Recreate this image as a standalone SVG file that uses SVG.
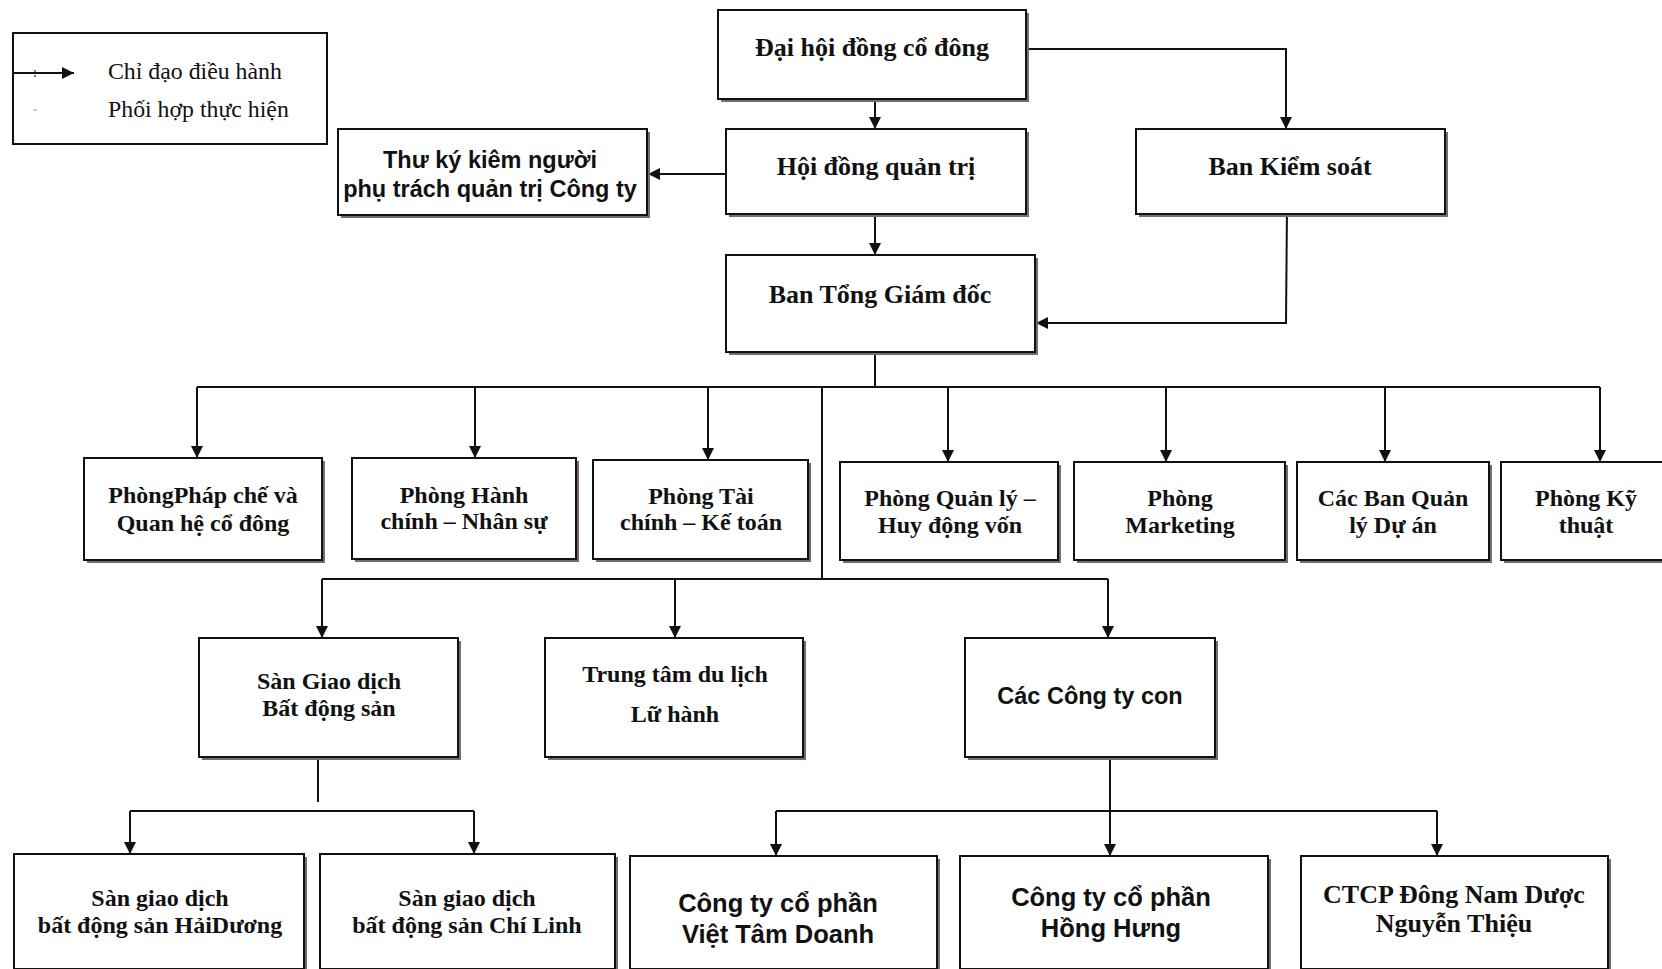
<svg xmlns="http://www.w3.org/2000/svg" width="1662" height="969" viewBox="0 0 1662 969">
<style>
.box{fill:#fff;stroke:#111;stroke-width:2}
.sh{fill:#7a6a6a}
.t{font-family:"Liberation Serif","Times New Roman",serif;font-weight:bold;font-size:24px;fill:#111;text-anchor:middle}
.tl{font-size:26px}
.s{font-family:"Liberation Sans Narrow","Liberation Sans",Arial,sans-serif;font-weight:bold;font-size:25.5px;fill:#111;text-anchor:middle}
.a{font-family:"Liberation Sans",Arial,sans-serif;font-weight:bold;font-size:23.5px;fill:#111;text-anchor:middle}
.lg{font-family:"Liberation Serif","Times New Roman",serif;font-size:23.8px;fill:#111}
.c{fill:none;stroke:#111;stroke-width:2}
</style>
<defs>
<marker id="ah" viewBox="0 0 10 10" refX="10" refY="5" markerWidth="14" markerHeight="12" markerUnits="userSpaceOnUse" orient="auto">
<path d="M0,0 L10,5 L0,10 z" fill="#111"/>
</marker>
</defs>
<rect width="1662" height="969" fill="#fff"/>

<g id="legend">
<rect x="13" y="33" width="314" height="111" fill="#fff" stroke="#111" stroke-width="2"/>
<line x1="13" y1="73" x2="74" y2="73" class="c" marker-end="url(#ah)"/>
<text x="33" y="77" style="font-family:'Liberation Serif',serif;font-size:14px;fill:#111">:</text>
<line x1="33" y1="110" x2="37" y2="110" stroke="#bbb" stroke-width="1.5"/>
<text x="108" y="79" class="lg">Chỉ đạo điều hành</text>
<text x="108" y="117" class="lg">Phối hợp thực hiện</text>
</g>

<g id="connectors">
<line x1="875" y1="99" x2="875" y2="129" class="c" marker-end="url(#ah)"/>
<polyline points="1026,49 1286,49 1286,129" class="c" marker-end="url(#ah)"/>
<line x1="726" y1="174" x2="648" y2="174" class="c" marker-end="url(#ah)"/>
<line x1="875" y1="214" x2="875" y2="255" class="c" marker-end="url(#ah)"/>
<polyline points="1287,207 1286,323 1036,323" class="c" marker-end="url(#ah)"/>
<line x1="875" y1="352" x2="875" y2="387" class="c"/>
<line x1="197" y1="387" x2="1600" y2="387" class="c"/>
<line x1="197" y1="387" x2="197" y2="458" class="c" marker-end="url(#ah)"/>
<line x1="475" y1="387" x2="475" y2="458" class="c" marker-end="url(#ah)"/>
<line x1="708" y1="387" x2="708" y2="460" class="c" marker-end="url(#ah)"/>
<line x1="948" y1="387" x2="948" y2="462" class="c" marker-end="url(#ah)"/>
<line x1="1166" y1="387" x2="1166" y2="462" class="c" marker-end="url(#ah)"/>
<line x1="1385" y1="387" x2="1385" y2="462" class="c" marker-end="url(#ah)"/>
<line x1="1600" y1="387" x2="1600" y2="462" class="c" marker-end="url(#ah)"/>
<line x1="822" y1="387" x2="822" y2="579" class="c"/>
<line x1="322" y1="579" x2="1108" y2="579" class="c"/>
<line x1="322" y1="579" x2="322" y2="638" class="c" marker-end="url(#ah)"/>
<line x1="675" y1="579" x2="675" y2="638" class="c" marker-end="url(#ah)"/>
<line x1="1108" y1="579" x2="1108" y2="638" class="c" marker-end="url(#ah)"/>
<line x1="318" y1="757" x2="318" y2="802" class="c"/>
<line x1="130" y1="811" x2="474" y2="811" class="c"/>
<line x1="130" y1="811" x2="130" y2="854" class="c" marker-end="url(#ah)"/>
<line x1="474" y1="811" x2="474" y2="854" class="c" marker-end="url(#ah)"/>
<line x1="1110" y1="757" x2="1110" y2="856" class="c" marker-end="url(#ah)"/>
<line x1="776" y1="811" x2="1437" y2="811" class="c"/>
<line x1="776" y1="811" x2="776" y2="856" class="c" marker-end="url(#ah)"/>
<line x1="1437" y1="811" x2="1437" y2="856" class="c" marker-end="url(#ah)"/>
</g>

<g id="dhdcd"><rect x="721" y="13" width="308" height="89" class="sh"/><rect x="718" y="10" width="308" height="89" class="box"/><text x="872" y="56" class="t tl">Đại hội đồng cổ đông</text></g>
<g id="hdqt"><rect x="729" y="132" width="300" height="85" class="sh"/><rect x="726" y="129" width="300" height="85" class="box"/><text x="876" y="175" class="t tl">Hội đồng quản trị</text></g>
<g id="thuky"><rect x="341" y="132" width="309" height="86" class="sh"/><rect x="338" y="129" width="309" height="86" class="box"/><text x="490" y="168" class="a">Thư ký kiêm người</text><text x="490" y="197" class="a">phụ trách quản trị Công ty</text></g>
<g id="bks"><rect x="1139" y="132" width="309" height="85" class="sh"/><rect x="1136" y="129" width="309" height="85" class="box"/><text x="1290" y="175" class="t tl">Ban Kiểm soát</text></g>
<g id="btgd"><rect x="729" y="258" width="309" height="97" class="sh"/><rect x="726" y="255" width="309" height="97" class="box"/><text x="880" y="303" class="t tl">Ban Tổng Giám đốc</text></g>

<g id="phapche"><rect x="87" y="461" width="238" height="102" class="sh"/><rect x="84" y="458" width="238" height="102" class="box"/><text x="203" y="503" class="t">PhòngPháp chế và</text><text x="203" y="531" class="t">Quan hệ cổ đông</text></g>
<g id="hanhchinh"><rect x="355" y="461" width="224" height="101" class="sh"/><rect x="352" y="458" width="224" height="101" class="box"/><text x="464" y="503" class="t">Phòng Hành</text><text x="464" y="529" class="t">chính – Nhân sự</text></g>
<g id="taichinh"><rect x="596" y="463" width="215" height="99" class="sh"/><rect x="593" y="460" width="215" height="99" class="box"/><text x="701" y="504" class="t">Phòng Tài</text><text x="701" y="530" class="t">chính – Kế toán</text></g>
<g id="quanly"><rect x="843" y="465" width="218" height="98" class="sh"/><rect x="840" y="462" width="218" height="98" class="box"/><text x="950" y="506" class="t">Phòng Quản lý –</text><text x="950" y="533" class="t">Huy động vốn</text></g>
<g id="marketing"><rect x="1077" y="465" width="211" height="98" class="sh"/><rect x="1074" y="462" width="211" height="98" class="box"/><text x="1180" y="506" class="t">Phòng</text><text x="1180" y="533" class="t">Marketing</text></g>
<g id="banqlda"><rect x="1300" y="465" width="192" height="98" class="sh"/><rect x="1297" y="462" width="192" height="98" class="box"/><text x="1393" y="506" class="t">Các Ban Quản</text><text x="1393" y="533" class="t">lý Dự án</text></g>
<g id="kythuat"><rect x="1504" y="465" width="170" height="98" class="sh"/><rect x="1501" y="462" width="170" height="98" class="box"/><text x="1586" y="506" class="t">Phòng Kỹ</text><text x="1586" y="533" class="t">thuật</text></g>

<g id="sangd"><rect x="202" y="641" width="259" height="119" class="sh"/><rect x="199" y="638" width="259" height="119" class="box"/><text x="329" y="689" class="t">Sàn Giao dịch</text><text x="329" y="716" class="t">Bất động sản</text></g>
<g id="dulich"><rect x="548" y="641" width="258" height="119" class="sh"/><rect x="545" y="638" width="258" height="119" class="box"/><text x="675" y="682" class="t">Trung tâm du lịch</text><text x="675" y="722" class="t">Lữ hành</text></g>
<g id="congtycon"><rect x="968" y="641" width="250" height="119" class="sh"/><rect x="965" y="638" width="250" height="119" class="box"/><text x="1090" y="704" class="s" style="font-size:23.5px">Các Công ty con</text></g>

<g id="haiduong"><rect x="17" y="857" width="290" height="115" class="sh"/><rect x="14" y="854" width="290" height="115" class="box"/><text x="160" y="906" class="t">Sàn giao dịch</text><text x="160" y="933" class="t">bất động sản HảiDương</text></g>
<g id="chilinh"><rect x="323" y="857" width="295" height="115" class="sh"/><rect x="320" y="854" width="295" height="115" class="box"/><text x="467" y="906" class="t">Sàn giao dịch</text><text x="467" y="933" class="t">bất động sản Chí Linh</text></g>
<g id="viettam"><rect x="633" y="859" width="307" height="113" class="sh"/><rect x="630" y="856" width="307" height="113" class="box"/><text x="778" y="912" class="s">Công ty cổ phần</text><text x="778" y="943" class="s">Việt Tâm Doanh</text></g>
<g id="honghung"><rect x="963" y="859" width="308" height="113" class="sh"/><rect x="960" y="856" width="308" height="113" class="box"/><text x="1111" y="906" class="s">Công ty cổ phần</text><text x="1111" y="937" class="s">Hồng Hưng</text></g>
<g id="dongnam"><rect x="1304" y="859" width="307" height="113" class="sh"/><rect x="1301" y="856" width="307" height="113" class="box"/><text x="1454" y="903" class="t tl">CTCP Đông Nam Dược</text><text x="1454" y="932" class="t tl">Nguyễn Thiệu</text></g>
</svg>
